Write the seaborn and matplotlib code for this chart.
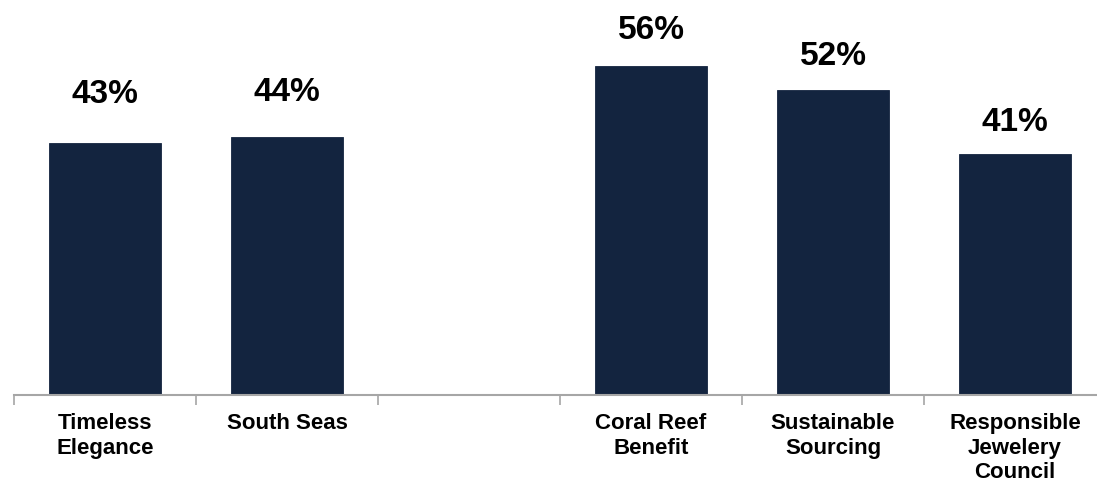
import numpy as np
import pandas as pd
import matplotlib
matplotlib.use("Agg")
import matplotlib.pyplot as plt
import seaborn as sns

# Survey results: share of respondents per message (middle slot left empty as a divider)
categories = ["Timeless\nElegance", "South Seas", "Coral Reef\nBenefit",
              "Sustainable\nSourcing", "Responsible\nJewelery\nCouncil"]
values = [43, 44, 56, 52, 41]
slot_order = ["Timeless\nElegance", "South Seas", " ", "Coral Reef\nBenefit",
              "Sustainable\nSourcing", "Responsible\nJewelery\nCouncil"]

# pixel gap between each bar top and its value label
label_gap_px = [40, 36, 27, 25, 23]

bar_color = "#13243f"
axis_color = "#a6a6a6"

sns.set_theme(style="white")
plt.rcParams["font.family"] = ["Liberation Sans", "DejaVu Sans"]

df = pd.DataFrame({"category": categories, "value": values})

fig = plt.figure(figsize=(10.97, 4.84), dpi=100)
W, H = 1097, 484
ax = fig.add_axes([14 / W, (H - 395) / H, 1092 / W, 395 / H])

sns.barplot(data=df, x="category", y="value", order=slot_order, color=bar_color,
            saturation=1, width=0.61, ax=ax, edgecolor=bar_color, linewidth=0.6)

ax.set_xlim(-0.5, len(slot_order) - 0.5)
ax.set_ylim(0, 395 / 5.87)

# value labels above bars
for cat, val, gap in zip(categories, values, label_gap_px):
    xpos = slot_order.index(cat)
    ax.annotate(f"{val}%", xy=(xpos, val), xytext=(0, gap), textcoords="offset pixels",
                ha="center", va="baseline", fontsize=24, fontweight="bold",
                color="black", annotation_clip=False)

# axis styling: only a grey baseline with ticks between categories
for side in ["left", "top", "right"]:
    ax.spines[side].set_visible(False)
ax.spines["bottom"].set_color(axis_color)
ax.spines["bottom"].set_linewidth(1.5)
ax.set_yticks([])
ax.set_xlabel("")
ax.set_ylabel("")

ax.set_xticks(range(len(slot_order)))
ax.set_xticklabels(slot_order, fontsize=16, fontweight="bold", color="black",
                   linespacing=1.22, va="top")
ax.tick_params(axis="x", which="major", length=0, pad=13)
ax.set_xticks(np.arange(-0.5, len(slot_order), 1.0), minor=True)
ax.tick_params(axis="x", which="minor", length=7, width=1.2, color=axis_color,
               direction="out", bottom=True)

fig.savefig("out.png", dpi=100)
